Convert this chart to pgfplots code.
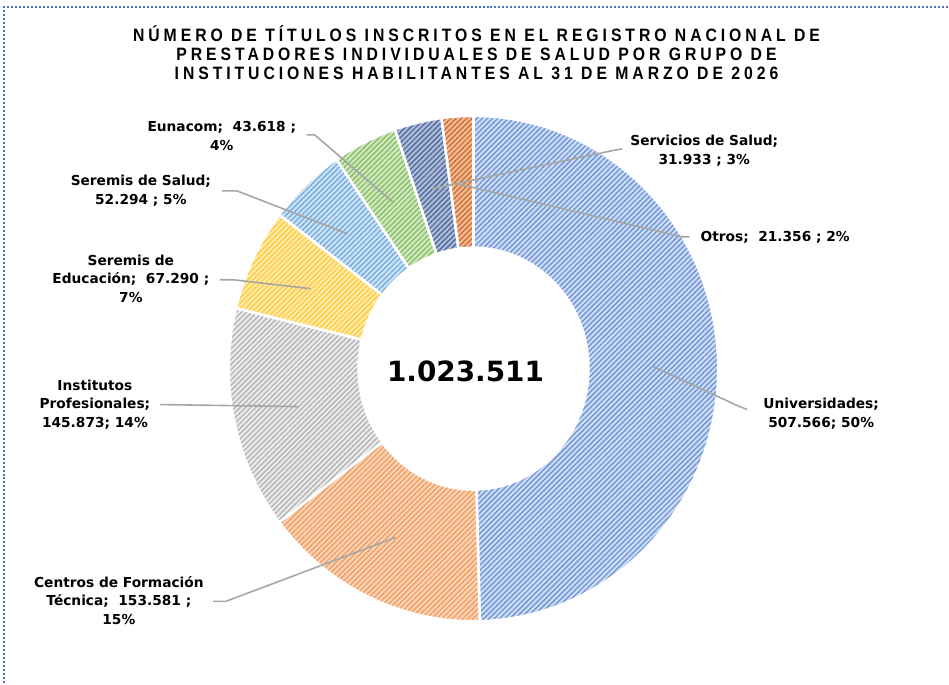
\documentclass[border=0pt]{standalone}
\usepackage{fontspec}
\setmainfont{DejaVu Sans}
\newfontfamily\titlefont[FakeStretch=0.88,LetterSpace=22]{Liberation Sans}
\usepackage{pgfplots}
\usepackage{pgfplotstable}
\pgfplotsset{compat=1.18}
\usetikzlibrary{patterns.meta}

\definecolor{uniB}{HTML}{CCDAF2}\definecolor{uniS}{HTML}{6690D6}
\definecolor{cenB}{HTML}{FAD3B6}\definecolor{cenS}{HTML}{F29A5C}
\definecolor{insB}{HTML}{EAEAEA}\definecolor{insS}{HTML}{B0B0B0}
\definecolor{edB}{HTML}{FFEAA6}\definecolor{edS}{HTML}{FFC83A}
\definecolor{salB}{HTML}{CBE1F4}\definecolor{salS}{HTML}{6EA9DC}
\definecolor{eunB}{HTML}{D0E6C1}\definecolor{eunS}{HTML}{82BD5C}
\definecolor{serB}{HTML}{ADBBD5}\definecolor{serS}{HTML}{48649B}
\definecolor{otrB}{HTML}{F3BA92}\definecolor{otrS}{HTML}{C96833}
\definecolor{Leader}{HTML}{A6A6A6}
\definecolor{Frame}{HTML}{4472C4}

% values in thousands, clockwise from 12 o'clock
\pgfplotstableread[col sep=comma]{
name,value,base,stripe
Universidades,507.566,uniB,uniS
Centros,153.581,cenB,cenS
Institutos,145.873,insB,insS
SeremisEd,67.290,edB,edS
SeremisSalud,52.294,salB,salS
Eunacom,43.618,eunB,eunS
Servicios,31.933,serB,serS
Otros,21.356,otrB,otrS
}\slices

\def\total{1023.511}
\def\cx{474}\def\cy{369}
\def\Rox{245}\def\Roy{253}
\def\Rix{115}\def\Riy{121}

\begin{document}
\begin{tikzpicture}[lbl/.style={align=center,font=\fontsize{13.8}{18.5}\selectfont\bfseries}]
\begin{axis}[
  hide axis, x=1bp, y=1bp,
  xmin=0, xmax=949, ymin=0, ymax=684, y dir=reverse,
  clip=false,
]
\path (axis cs:0,0) rectangle (axis cs:949,684);
\def\cum{0}
\pgfplotsforeachungrouped \i in {0,...,7}{%
  \pgfplotstablegetelem{\i}{value}\of\slices \let\val\pgfplotsretval
  \pgfplotstablegetelem{\i}{base}\of\slices \let\colB\pgfplotsretval
  \pgfplotstablegetelem{\i}{stripe}\of\slices \let\colS\pgfplotsretval
  \pgfmathsetmacro\aS{90-\cum/\total*360}
  \pgfmathsetmacro\cum{\cum+\val}
  \pgfmathsetmacro\aE{90-\cum/\total*360}
  \pgfmathsetmacro\xo{\cx+\Rox*cos(\aS)}
  \pgfmathsetmacro\yo{\cy-\Roy*sin(\aS)}
  \pgfmathsetmacro\xi{\cx+\Rix*cos(\aE)}
  \pgfmathsetmacro\yi{\cy-\Riy*sin(\aE)}
  \edef\sp{(axis cs:\xo,\yo) arc[start angle=\aS,end angle=\aE,x radius=\Rox bp,y radius=\Roy bp]
    -- (axis cs:\xi,\yi) arc[start angle=\aE,end angle=\aS,x radius=\Rix bp,y radius=\Riy bp] -- cycle}
  \edef\tmp{\noexpand\fill[\colB] \sp;
    \noexpand\fill[pattern={Lines[angle=45,distance=3.7bp,line width=1.2bp]},pattern color=\colS] \sp;
    \noexpand\draw[white,line width=2.6bp] \sp;}
  \tmp
}

% leader lines
\addplot[Leader,line width=1.6bp] coordinates {(654,367)(738,406)(748,410)};
\addplot[Leader,line width=1.6bp] coordinates {(396,538)(226,602)(213,602)};
\addplot[Leader,line width=1.6bp] coordinates {(298,407)(160,405)};
\addplot[Leader,line width=1.6bp] coordinates {(311,289)(233,280)(220,280)};
\addplot[Leader,line width=1.6bp] coordinates {(348,234)(237,191)(222,191)};
\addplot[Leader,line width=1.6bp] coordinates {(393,202)(315,135)(307,135)};
\addplot[Leader,line width=1.6bp] coordinates {(432,189)(612,151)(623,149)};
\addplot[Leader,line width=1.6bp] coordinates {(458,184)(682,237)(690,237)};

% labels
\node[lbl] at (axis cs:822,414) {Universidades;\\507.566; 50\%};
\node[lbl] at (axis cs:119,601) {Centros de Formación\\Técnica;\ \ 153.581 ;\\15\%};
\node[lbl] at (axis cs:95,405) {Institutos\\Profesionales;\\145.873; 14\%};
\node[lbl] at (axis cs:131,279) {Seremis de\\Educación;\ \ 67.290 ;\\7\%};
\node[lbl] at (axis cs:141,191) {Seremis de Salud;\\52.294 ; 5\%};
\node[lbl] at (axis cs:222,136) {Eunacom;\ \ 43.618 ;\\4\%};
\node[lbl] at (axis cs:705,151) {Servicios de Salud;\\31.933 ; 3\%};
\node[lbl] at (axis cs:776,238) {Otros;\ \ 21.356 ; 2\%};

\node[font=\fontsize{28}{30}\selectfont\bfseries] at (axis cs:466,372) {1.023.511};

\node[align=center,font=\titlefont\bfseries\fontsize{18}{19}\selectfont] at (axis cs:477,53)
  {NÚMERO DE TÍTULOS INSCRITOS EN EL REGISTRO NACIONAL DE\\
   PRESTADORES INDIVIDUALES DE SALUD POR GRUPO DE\\
   INSTITUCIONES HABILITANTES AL 31 DE MARZO DE 2026};

% frame
\draw[Frame,line width=2bp,dash pattern=on 2bp off 2bp] (axis cs:4,684) -- (axis cs:4,7) -- (axis cs:949,7);
\end{axis}
\end{tikzpicture}
\end{document}
